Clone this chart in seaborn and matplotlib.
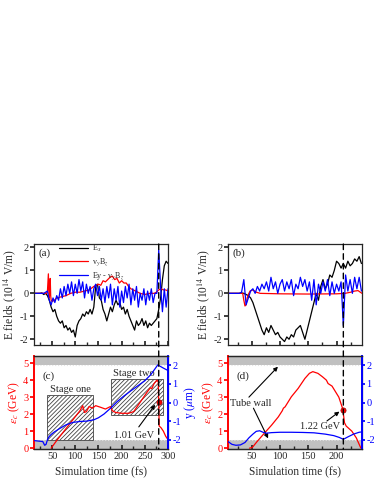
import matplotlib
matplotlib.use('Agg')
import matplotlib.pyplot as plt
from matplotlib.patches import Rectangle, ConnectionPatch
from matplotlib.ticker import MultipleLocator
import numpy as np
import pandas as pd
import seaborn as sns

# ---- (a) fields, t = 12..300 fs, every 4 fs
t_a = np.arange(12, 301, 4)
ex_a = [0, 0, 0, 0, 0.02, -0.05, 0.0, -0.1,
        -0.3, -0.6, -0.8, -0.7, -1.0, -1.2, -1.3, -1.2, -1.5, -1.4,
        -1.6, -1.5, -1.7, -1.6, -1.9, -1.4, -1.2, -1.1, -0.9, -1.0,
        -0.8, -0.9, -0.7, -0.9, -0.6, 0.3, 0.4, -0.2, -0.3, -0.7,
        -0.9, -1.2, -0.9, -0.6, -0.8, -0.5, -0.3, -0.5, -0.4, -0.7,
        -0.6, -0.9, -0.7, -1.0, -1.2, -1.4, -1.6, -1.2, -1.4, -1.3,
        -1.1, -1.4, -1.2, -1.5, -1.3, -1.4, -1.3, -1.2, -1.1, -0.7,
        -0.2, 0.6, 1.2, 1.4, 1.3]
diff_a = [0, 0, 0, 0, 0, 0, 0.05, 0.1,
          -0.3, -0.5, -0.2, -0.4, -0.1, -0.3, 0.2, -0.2, 0.3, -0.1,
          0.4, 0.0, 0.5, -0.1, 0.4, 0.0, 0.6, 0.1, 0.5, -0.2,
          0.4, 0.0, 0.3, -0.3, 0.2, 0.4, -0.1, 0.3, -0.3, 0.2,
          -0.4, 0.3, -0.2, 0.4, -0.5, 0.2, -0.3, 0.3, -0.6, 0.1,
          -0.4, 0.3, -0.2, 0.4, -0.5, 0.2, -0.3, 0.3, -0.6, 0.0,
          -0.3, 0.2, -0.5, 0.1, -0.3, 0.2, -0.4, 0.0, 0.0, 1.9,
          0.3, -0.8, 0.2, -0.6, 0.2]
t_vb_a = [12, 38, 40, 42, 43, 44, 45, 46, 47, 48, 50, 55, 60, 70, 80, 90,
          100, 110, 120, 130, 140, 150, 155, 160, 165, 170, 175, 180, 185,
          190, 195, 200, 205, 210, 215, 220, 230, 240, 250, 260, 270, 275,
          280, 285, 290, 295, 300]
vb_a = [0, 0, 0.1, 0.85, 0.1, -0.2, 0.2, 0.65, -0.1, -0.3, -0.35, -0.3, -0.2,
        -0.15, -0.1, 0.0, 0.05, 0.05, 0.1, 0.15, 0.3, 0.4, 0.35, 0.55, 0.5,
        0.6, 0.7, 0.75, 0.6, 0.65, 0.45, 0.55, 0.45, 0.45, 0.3, 0.2, 0.1,
        0.0, -0.05, 0.0, 0.0, 0.05, 0.15, 0.2, 0.15, 0.15, 0.1]

# ---- (b) fields, t = 8..244 fs, every 4 fs
t_b = np.arange(8, 245, 4)
ex_b = [0, 0, 0, 0, 0, 0, 0.02, 0.0, -0.05,
        -0.1, -0.2, -0.4, -0.7, -1.0, -1.3, -1.6, -1.8, -1.5, -1.7,
        -1.4, -1.6, -1.8, -1.7, -1.9, -2.0, -2.1, -1.9, -2.0, -1.8,
        -1.9, -1.6, -1.5, -1.4, -1.7, -2.0, -1.6, -1.2, -0.8, -0.4,
        0.0, -0.3, 0.3, 0.6, 0.2, 0.4, 0.8, 0.7, 1.0, 1.4,
        1.3, 1.1, 1.3, 1.1, 1.4, 1.2, 1.3, 1.5, 1.4, 1.6, 1.3]
diff_b = [0, 0, 0, 0, 0, 0,
          0.05, 0.6, -0.5, -0.2,
          0.1, 0.2, 0.0, 0.3, 0.1, 0.4, 0.2, 0.5, 0.1, 0.7,
          0.2, 0.5, 0.0, 0.4, 0.6, 0.1, 0.5, 0.2, 0.6, -0.1,
          0.4, 0.2, 0.7, 0.3, 0.6, 0.1, 0.5, -0.3, 0.6, -0.5,
          0.4, 0.0, 0.5, 0.1, 0.6, -0.1, 0.5, 0.0, 0.4, 0.1,
          0.5, -1.4, 0.8, 0.1, 0.6, 0.0, 0.7, 0.2, 0.7, 0.1]
t_vb_b = [8, 34, 36, 38, 40, 42, 44, 47, 52, 58, 65, 100, 150, 200, 215,
          225, 232, 238, 242, 245]
vb_b = [0, 0, -0.3, -0.55, -0.5, -0.2, -0.05, 0.1, 0.15, 0.05, 0.0, -0.02,
        -0.03, -0.02, 0.0, 0.05, 0.1, 0.12, 0.05, 0.0]

# ---- (c) energy and transverse position
t_eps_c = [48, 60, 80, 100, 110, 116, 120, 124, 130, 137, 144, 155, 165, 176,
           180, 187, 200, 215, 226, 240, 255, 262, 265, 270, 276, 279, 281,
           285, 290, 295, 300]
eps_c = [0.0, 0.45, 1.15, 1.85, 2.2, 2.5, 2.1, 2.15, 2.45, 2.35, 2.5, 2.4,
         2.3, 2.45, 2.2, 2.1, 2.05, 2.05, 2.15, 2.7, 3.3, 3.55, 3.5, 3.8,
         4.0, 3.9, 1.3, 1.2, 1.0, 0.7, 0.5]
t_y_c = [12, 30, 34, 37, 40, 43, 48, 55, 65, 80, 95, 110, 125, 140, 150, 162,
         176, 190, 205, 220, 235, 250, 263, 278, 290, 300]
y_c = [-2.05, -2.1, -2.3, -2.25, -2.0, -1.85, -1.72, -1.58, -1.42, -1.2,
       -1.07, -1.02, -1.0, -0.93, -0.82, -0.62, -0.31, 0.04, 0.35, 0.63,
       0.9, 1.17, 1.5, 2.02, 1.85, 1.72]

# ---- (d)
t_eps_d = [46, 51, 59, 71, 85, 97, 104, 106, 109, 120, 132, 144, 152, 158,
           167, 175, 182, 185, 192, 204, 211, 214, 217, 227, 235, 243]
eps_d = [0.0, 0.04, 0.37, 0.83, 1.35, 1.84, 2.2, 2.35, 2.43, 3.02, 3.51,
         4.1, 4.4, 4.5, 4.4, 4.2, 4.0, 3.8, 3.65, 3.0, 2.3, 1.5, 1.3, 1.0,
         0.6, 0.0]
t_y_d = [8, 15, 22, 30, 38, 45, 52, 58, 64, 70, 76, 85, 100, 120, 140, 160,
         180, 195, 205, 212, 220, 230, 240, 245]
y_d = [-2.1, -2.25, -2.3, -2.28, -2.15, -1.9, -1.7, -1.55, -1.52, -1.6,
       -1.65, -1.62, -1.6, -1.6, -1.61, -1.63, -1.7, -1.78, -1.88, -1.98,
       -1.85, -1.7, -1.6, -1.58]

t_cut_c, eps_dot_c = 280, 2.72
t_cut_d, eps_dot_d = 212, 2.27

sns.set_theme(style='ticks')
plt.rcParams['font.family'] = ['Liberation Serif', 'DejaVu Serif']
plt.rcParams['mathtext.fontset'] = 'stix'
plt.rcParams['hatch.linewidth'] = 0.6
plt.rcParams['axes.linewidth'] = 0.9
plt.rcParams['axes.unicode_minus'] = False

RED = '#ff0000'
BLUE = '#0000ff'
FS = 7.5

fig = plt.figure(figsize=(3.74, 4.84), dpi=100)
W, H = 374, 484
def box(x0, y0, x1, y1):
    return [x0 / W, 1 - y1 / H, (x1 - x0) / W, (y1 - y0) / H]

ax_a = fig.add_axes(box(34, 244, 168, 345))
ax_c = fig.add_axes(box(34, 356, 168, 449))
ax_b = fig.add_axes(box(228, 244, 362, 345))
ax_d = fig.add_axes(box(228, 356, 362, 449))


def field_panel(ax, t, ex, vb_t, vb, diff, xlim, tag, legend):
    sns.lineplot(x=t, y=ex, ax=ax, color='black', lw=0.9, label=r'E$_x$')
    sns.lineplot(x=vb_t, y=vb, ax=ax, color=RED, lw=0.9, label=r'v$_y$B$_z$')
    sns.lineplot(x=t, y=diff, ax=ax, color=BLUE, lw=0.9,
                 label=r'Ey - v$_y$B$_z$')
    ax.set_xlim(*xlim)
    ax.set_ylim(-2.25, 2.15)
    ax.xaxis.set_major_locator(MultipleLocator(50))
    ax.xaxis.set_minor_locator(MultipleLocator(25))
    ax.yaxis.set_major_locator(MultipleLocator(1))
    ax.tick_params(axis='x', which='both', direction='in', labelbottom=False,
                   length=3)
    ax.tick_params(axis='x', which='minor', length=2)
    ax.tick_params(axis='y', direction='out', length=3, labelsize=FS, pad=1)
    ax.set_xlabel('')
    ax.set_ylabel(r'E fields (10$^{14}$ V/m)', fontsize=8.3, labelpad=1)
    ax.text(0.03, 0.88, tag, transform=ax.transAxes, fontsize=8)
    if legend:
        ax.legend(loc='upper left', bbox_to_anchor=(0.16, 1.04), frameon=False,
                  fontsize=5.8, handlelength=3.6, labelspacing=0.25,
                  handletextpad=0.5, borderaxespad=0)
    else:
        ax.get_legend().remove()


def energy_panel(ax, t_eps, eps, t_y, yv, xlim, tag):
    ax2 = ax.twinx()
    # gray tube-wall bands (right-axis |y| > 2)
    for y0 in (0.0, 0.9):
        ax.add_patch(Rectangle((0, y0), 1, 0.1, transform=ax.transAxes,
                               facecolor='#c0c0c0', edgecolor='none', zorder=0))
    for yl in (0.1, 0.9):
        ax.plot([0, 1], [yl, yl], transform=ax.transAxes, color='#e4e4e4',
                lw=0.8, ls=':', zorder=1)
    sns.lineplot(x=t_eps, y=eps, ax=ax, color=RED, lw=0.9, zorder=5)
    sns.lineplot(x=t_y, y=yv, ax=ax2, color=BLUE, lw=0.9)
    ax.set_xlim(*xlim)
    ax.set_ylim(-0.05, 5.42)
    ax2.set_ylim(-2.5, 2.5)
    ax.xaxis.set_major_locator(MultipleLocator(50))
    ax.xaxis.set_minor_locator(MultipleLocator(25))
    ax.yaxis.set_major_locator(MultipleLocator(1))
    ax2.yaxis.set_major_locator(MultipleLocator(1))
    ax.tick_params(axis='x', which='both', direction='in', length=3,
                   labelsize=FS, pad=2)
    ax.tick_params(axis='x', which='minor', length=2)
    ax.tick_params(axis='y', direction='out', length=3, labelsize=FS, pad=1,
                   colors=RED)
    ax2.tick_params(axis='y', direction='out', length=2.5, labelsize=FS,
                    pad=0.6, colors=BLUE)
    ax.spines['left'].set_color(RED)
    ax.spines['left'].set_linewidth(1.4)
    ax2.spines['left'].set_visible(False)
    ax2.spines['right'].set_color(BLUE)
    ax2.spines['right'].set_linewidth(1.4)
    ax.set_xlabel('Simulation time (fs)', fontsize=8.3, labelpad=3)
    ax.set_ylabel(r'$\varepsilon_c$ (GeV)', fontsize=8.3, color=RED, labelpad=1)
    ax2.set_ylabel('')
    ax.text(0.06, 0.76, tag, transform=ax.transAxes, fontsize=8, zorder=6)
    return ax2


field_panel(ax_a, t_a, ex_a, t_vb_a, vb_a, diff_a, (11, 300), '(a)', True)
field_panel(ax_b, t_b, ex_b, t_vb_b, vb_b, diff_b, (8, 245), '(b)', False)

ax_c2 = energy_panel(ax_c, t_eps_c, eps_c, t_y_c, y_c, (11, 300), '(c)')
ax_d2 = energy_panel(ax_d, t_eps_d, eps_d, t_y_d, y_d, (8, 245), '(d)')
ax_c2.set_ylabel(r'y ($\mu$m)', fontsize=8.3, color=BLUE, labelpad=1)

# hatched acceleration stages in (c)
for (x0, x1, y0, y1) in [(40, 139, 0.5, 3.1), (176, 289, 1.95, 4.08)]:
    ax_c.add_patch(Rectangle((x0, y0), x1 - x0, y1 - y0, facecolor='white',
                             edgecolor='#444444', hatch='////////', lw=0.6,
                             zorder=2))
ax_c.text(89, 3.2, 'Stage one', ha='center', va='bottom', fontsize=FS)
ax_c.text(226, 4.15, 'Stage two', ha='center', va='bottom', fontsize=FS)

# energy markers
sns.scatterplot(x=[t_cut_c], y=[eps_dot_c], ax=ax_c, color=RED, s=14,
                edgecolor='#990000', linewidth=0.5, zorder=7)
sns.scatterplot(x=[t_cut_d], y=[eps_dot_d], ax=ax_d, color=RED, s=14,
                edgecolor='#990000', linewidth=0.5, zorder=7)

arrow = dict(arrowstyle='-|>', color='black', lw=0.8, mutation_scale=6,
             shrinkA=0, shrinkB=1)
ax_c.annotate('', xy=(274, 2.62), xytext=(237, 1.25), arrowprops=arrow,
              zorder=8)
ax_c.text(226, 0.75, '1.01 GeV', ha='center', va='center', fontsize=FS,
          zorder=8)
ax_d.annotate('', xy=(207, 2.2), xytext=(183, 1.6), arrowprops=arrow,
              zorder=8)
ax_d.text(171, 1.25, '1.22 GeV', ha='center', va='center', fontsize=FS,
          zorder=8)
ax_d.text(12, 2.65, 'Tube wall', ha='left', va='center', fontsize=FS, zorder=8)
ax_d.annotate('', xy=(98, 4.85), xytext=(45, 3.0), arrowprops=arrow, zorder=8)
ax_d.annotate('', xy=(80, 0.5), xytext=(53, 2.35), arrowprops=arrow, zorder=8)

# dashed markers running through both panels
for top, bot, tc in [(ax_a, ax_c, t_cut_c), (ax_b, ax_d, t_cut_d)]:
    con = ConnectionPatch(xyA=(tc, 1), coordsA=top.get_xaxis_transform(),
                          xyB=(tc, 0), coordsB=bot.get_xaxis_transform(),
                          color='black', lw=1.0, ls=(0, (4, 3)), zorder=9)
    fig.add_artist(con)

fig.savefig('out.png', dpi=100)
